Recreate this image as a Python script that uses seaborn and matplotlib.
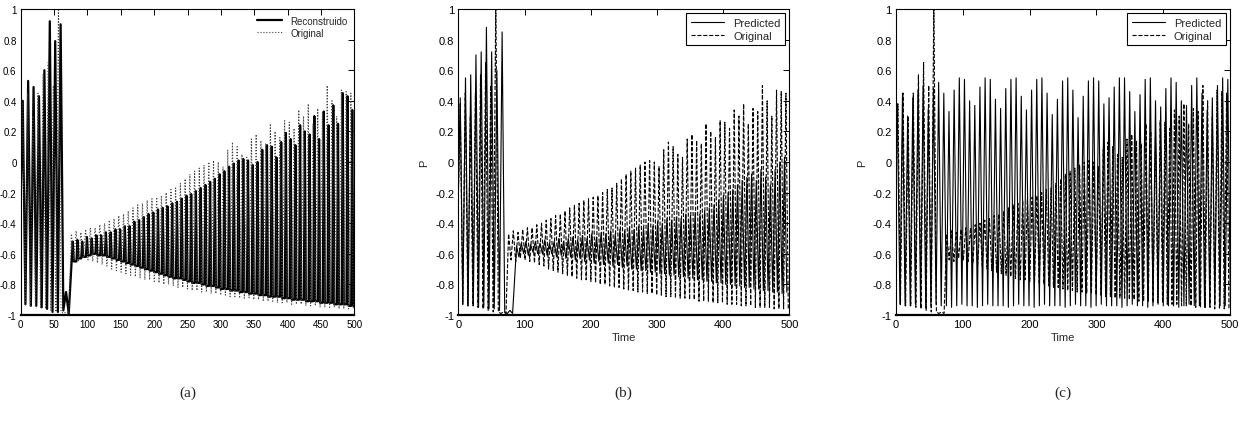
import numpy as np
import seaborn as sns
import matplotlib
matplotlib.use("Agg")
import matplotlib.pyplot as plt

# ---- data (peak / trough values per cycle) ----
# panel (a) reconstructed signal, before the jump (vertices) and after (per cycle)
a_rec_pre = [-0.45, 0.40, -0.93, 0.53, -0.94, 0.49, -0.94, 0.43, -0.95, 0.60,
             -0.96, 0.92, -0.98, 0.79, -0.98, 0.90, -0.97, -0.85, -0.99]
a_rec_peaks = [-0.52, -0.51, -0.52, -0.49, -0.50, -0.48, -0.48, -0.46, -0.46, -0.44,
               -0.44, -0.42, -0.42, -0.39, -0.38, -0.36, -0.34, -0.33, -0.31, -0.30,
               -0.29, -0.27, -0.26, -0.24, -0.22, -0.21, -0.19, -0.17, -0.15, -0.13,
               -0.11, -0.08, -0.06, -0.03, -0.01, 0.01, 0.02, 0.01, -0.02, 0.00,
               0.08, 0.11, 0.10, 0.03, 0.13, 0.19, 0.15, 0.11, 0.24, 0.20,
               0.18, 0.30, 0.15, 0.33, 0.24, 0.37, 0.25, 0.45, 0.43, 0.34]
a_rec_troughs = [-0.65, -0.63, -0.62, -0.61, -0.60, -0.61, -0.61, -0.62, -0.63, -0.64,
                 -0.65, -0.66, -0.67, -0.68, -0.69, -0.70, -0.71, -0.72, -0.73, -0.74,
                 -0.75, -0.76, -0.76, -0.77, -0.78, -0.79, -0.79, -0.80, -0.81, -0.81,
                 -0.82, -0.83, -0.83, -0.84, -0.84, -0.85, -0.85, -0.86, -0.86, -0.87,
                 -0.87, -0.88, -0.88, -0.88, -0.89, -0.89, -0.90, -0.90, -0.90, -0.91,
                 -0.91, -0.91, -0.92, -0.92, -0.92, -0.93, -0.93, -0.93, -0.94, -0.94]

# original signal (same in all three panels)
orig_pre = [-0.45, 0.38, -0.93, 0.45, -0.94, 0.30, -0.94, 0.45, -0.95, 0.57,
            -0.96, 0.65, -0.97, 0.50, -0.98, 1.05, -0.98, -0.99, -0.98, -0.99]
orig_peaks = [-0.47, -0.45, -0.46, -0.44, -0.43, -0.43, -0.41, -0.40, -0.38, -0.37,
              -0.35, -0.34, -0.32, -0.30, -0.28, -0.27, -0.25, -0.24, -0.23, -0.22,
              -0.20, -0.18, -0.17, -0.14, -0.11, -0.08, -0.06, -0.04, -0.02, 0.00,
              0.01, 0.00, -0.03, 0.08, 0.13, 0.10, 0.05, 0.03, 0.15, 0.18,
              0.14, 0.12, 0.25, 0.20, 0.16, 0.27, 0.26, 0.22, 0.34, 0.30,
              0.38, 0.25, 0.35, 0.33, 0.50, 0.40, 0.30, 0.47, 0.46, 0.45]
orig_troughs = [-0.64, -0.65, -0.63, -0.64, -0.65, -0.66, -0.67, -0.68, -0.70, -0.71,
                -0.72, -0.73, -0.74, -0.75, -0.76, -0.77, -0.77, -0.78, -0.79, -0.80,
                -0.80, -0.81, -0.82, -0.82, -0.83, -0.84, -0.84, -0.85, -0.85, -0.86,
                -0.86, -0.87, -0.87, -0.88, -0.88, -0.89, -0.89, -0.89, -0.90, -0.90,
                -0.91, -0.91, -0.91, -0.92, -0.92, -0.92, -0.93, -0.93, -0.93, -0.94,
                -0.94, -0.94, -0.95, -0.95, -0.95, -0.95, -0.96, -0.96, -0.96, -0.96]

# panel (b) predicted
b_pred_pre = [-0.45, 0.42, -0.93, 0.55, -0.94, 0.57, -0.94, 0.70, -0.95, 0.72, -0.95,
              0.88, -0.96, 0.72, -0.96, 0.60, -0.97, 0.85, -0.98, -0.99, -0.97, -0.99]
b_pred_peaks = [-0.55, -0.53, -0.52, -0.54, -0.52, -0.53, -0.51, -0.53, -0.52, -0.50,
                -0.52, -0.50, -0.49, -0.51, -0.48, -0.50, -0.47, -0.49, -0.46, -0.47,
                -0.45, -0.47, -0.44, -0.45, -0.43, -0.44, -0.42, -0.43, -0.40, -0.42,
                -0.39, -0.40, -0.37, -0.38, -0.36, -0.37, -0.34, -0.35, -0.33, -0.34,
                -0.32, -0.30, -0.28, -0.25, -0.22, -0.20, -0.18, -0.15, -0.12, -0.10,
                -0.08, -0.12, -0.05, -0.10, -0.15, -0.05, 0.00, 0.03]
b_pred_troughs = [-0.62, -0.60, -0.61, -0.59, -0.60, -0.60, -0.61, -0.60, -0.62, -0.61,
                  -0.63, -0.62, -0.64, -0.63, -0.65, -0.64, -0.66, -0.65, -0.67, -0.66,
                  -0.68, -0.67, -0.69, -0.68, -0.70, -0.70, -0.71, -0.71, -0.72, -0.72,
                  -0.73, -0.73, -0.74, -0.74, -0.75, -0.75, -0.76, -0.76, -0.77, -0.77,
                  -0.78, -0.78, -0.79, -0.79, -0.80, -0.80, -0.81, -0.81, -0.82, -0.82,
                  -0.83, -0.83, -0.84, -0.84, -0.85, -0.85, -0.86, -0.85]

# panel (c) predicted
c_pred_peaks = [0.38, 0.45, 0.30, 0.42, 0.47, 0.50, 0.35, 0.48, 0.52, 0.45,
                0.33, 0.47, 0.55, 0.54, 0.40, 0.37, 0.49, 0.55, 0.54, 0.41,
                0.35, 0.48, 0.54, 0.55, 0.43, 0.34, 0.47, 0.54, 0.55, 0.45,
                0.31, 0.41, 0.53, 0.55, 0.47, 0.29, 0.43, 0.53, 0.55, 0.53,
                0.38, 0.42, 0.49, 0.55, 0.55, 0.46, 0.33, 0.44, 0.54, 0.55,
                0.40, 0.36, 0.48, 0.55, 0.52, 0.40, 0.37, 0.50, 0.55, 0.45,
                0.34, 0.42, 0.50, 0.55, 0.54]
c_pred_troughs = [-0.93, -0.94, -0.94, -0.93, -0.94, -0.95, -0.94, -0.93, -0.94, -0.94,
                  -0.95, -0.94, -0.93, -0.94, -0.94, -0.95, -0.94, -0.93, -0.94, -0.94,
                  -0.94, -0.95, -0.94, -0.93, -0.94, -0.94, -0.95, -0.94, -0.93, -0.94,
                  -0.94, -0.94, -0.95, -0.94, -0.93, -0.94, -0.94, -0.95, -0.94, -0.93,
                  -0.94, -0.94, -0.94, -0.95, -0.94, -0.93, -0.94, -0.94, -0.95, -0.94,
                  -0.93, -0.94, -0.94, -0.94, -0.95, -0.94, -0.93, -0.94, -0.94, -0.95,
                  -0.94, -0.93, -0.94, -0.94, -0.94]

y_ticks = [-1, -0.8, -0.6, -0.4, -0.2, 0, 0.2, 0.4, 0.6, 0.8, 1]
y_tick_labels = ['-1', '-0.8', '-0.6', '-0.4', '-0.2', '0', '0.2', '0.4', '0.6', '0.8', '1']
x_ticks_a = [0, 50, 100, 150, 200, 250, 300, 350, 400, 450, 500]
x_ticks_bc = [0, 100, 200, 300, 400, 500]
panel_names = ['(a)', '(b)', '(c)']


def build(pre, pre_span, peaks, troughs, t0, period, narrow=False):
    # one cycle = peak then trough; "narrow" keeps the line at the trough
    # for most of the cycle so the peaks stay thin spikes
    if narrow:
        v_post = np.column_stack([peaks, troughs, troughs]).ravel()
        offs = np.tile([0.0, 0.22, 0.78], len(peaks))
        t_post = t0 + period * (np.repeat(np.arange(len(peaks)), 3) + offs)
    else:
        v_post = np.column_stack([peaks, troughs]).ravel()
        t_post = t0 + period / 2 * np.arange(len(v_post))
    if pre is None:
        return t_post, v_post
    t_pre = np.linspace(pre_span[0], pre_span[1], len(pre))
    return np.concatenate([t_pre, t_post]), np.concatenate([pre, v_post])


t_arec, v_arec = build(a_rec_pre, (-1, 72), a_rec_peaks, a_rec_troughs, 78, 7.1, narrow=True)
t_orig, v_orig = build(orig_pre, (-1, 72), orig_peaks, orig_troughs, 76, 7.1)
t_bpred, v_bpred = build(b_pred_pre, (-1, 82), b_pred_peaks, b_pred_troughs, 88, 7.1)
t_cpred, v_cpred = build(None, None, c_pred_peaks, c_pred_troughs, 2, 7.73)

sns.set_style("white")
plt.rcParams['font.family'] = ['Liberation Sans Narrow', 'Liberation Sans', 'DejaVu Sans']
plt.rcParams['axes.unicode_minus'] = False

fig = plt.figure(figsize=(12.44, 4.27), dpi=100)
W, H = 1244, 427
boxes = [(20.7, 354.3), (458.3, 789.3), (896, 1230)]
axes = [fig.add_axes([l / W, 1 - 316 / H, (r - l) / W, 306 / H]) for l, r in boxes]


def style(ax, xt):
    ax.set_xlim(0, 500)
    ax.set_ylim(-1, 1)
    ax.set_xticks(xt)
    ax.set_xticklabels([str(x) for x in xt])
    ax.set_yticks(y_ticks)
    ax.set_yticklabels(y_tick_labels)
    ax.tick_params(direction='in', top=True, right=True, length=4, width=0.7,
                   labelsize=8, pad=3, colors='k')
    for s in ax.spines.values():
        s.set_linewidth(0.8)
        s.set_color('k')
    ax.spines['bottom'].set_linewidth(1.6)


# (a)
ax = axes[0]
sns.lineplot(x=t_arec, y=v_arec, ax=ax, sort=False, estimator=None, color='k',
             linewidth=1.6, label='Reconstruido')
sns.lineplot(x=t_orig, y=v_orig, ax=ax, sort=False, estimator=None, color='0.25',
             linewidth=0.8, linestyle=':', label='Original')
style(ax, x_ticks_a)
ax.tick_params(labelsize=7)
ax.legend(loc='upper right', frameon=False, fontsize=7, handlelength=2.6,
          borderaxespad=0.3, labelspacing=0.2)

# (b)
ax = axes[1]
sns.lineplot(x=t_bpred, y=v_bpred, ax=ax, sort=False, estimator=None, color='k',
             linewidth=0.8, label='Predicted')
sns.lineplot(x=t_orig, y=v_orig, ax=ax, sort=False, estimator=None, color='k',
             linewidth=0.8, linestyle='--', dashes=(4, 3), label='Original')
style(ax, x_ticks_bc)

# (c)
ax = axes[2]
sns.lineplot(x=t_cpred, y=v_cpred, ax=ax, sort=False, estimator=None, color='k',
             linewidth=0.8, label='Predicted')
sns.lineplot(x=t_orig, y=v_orig, ax=ax, sort=False, estimator=None, color='k',
             linewidth=0.8, linestyle='--', dashes=(4, 3), label='Original')
style(ax, x_ticks_bc)

for ax in axes[1:]:
    ax.set_xlabel('Time', fontsize=8, labelpad=2)
    ax.set_ylabel('P', fontsize=8, labelpad=4)
    leg = ax.legend(loc='upper right', fontsize=8, handlelength=3, fancybox=False,
                    edgecolor='k', framealpha=1, borderaxespad=0.4, labelspacing=0.25)
    leg.get_frame().set_linewidth(0.8)

for (l, r), name in zip(boxes, panel_names):
    fig.text((l + r) / 2 / W, 1 - 393 / H, name, ha='center', va='center',
             fontsize=11, family='Liberation Serif')

fig.savefig('out.png', dpi=100)
